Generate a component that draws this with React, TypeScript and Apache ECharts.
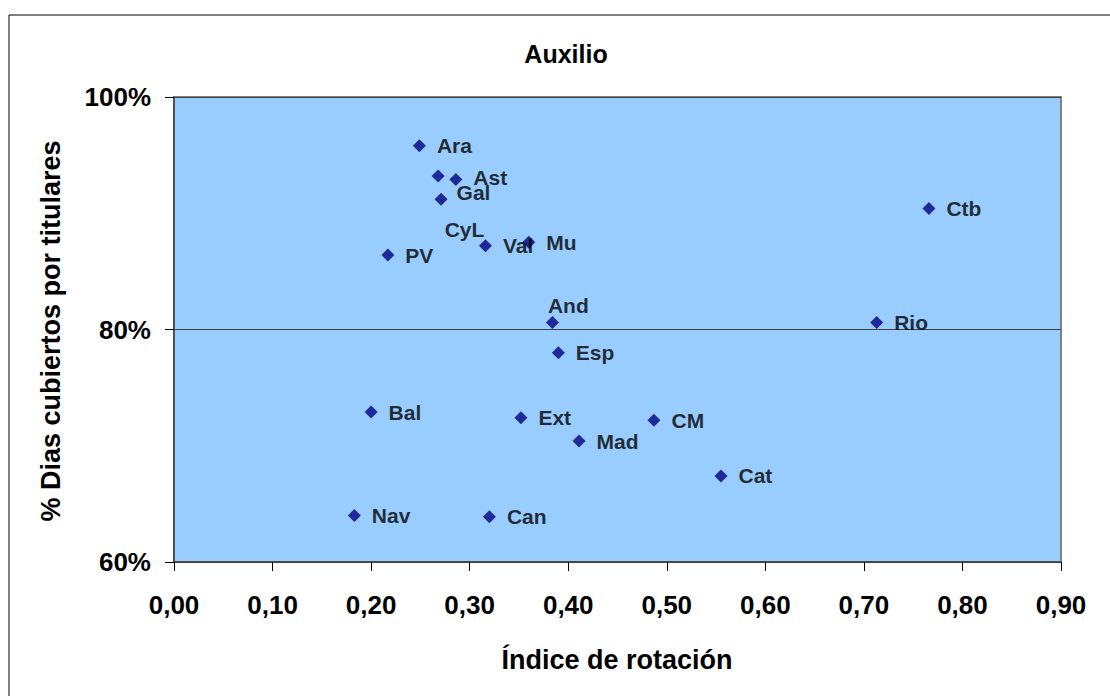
import React, { useEffect, useRef } from "react";
import * as echarts from "echarts";

const regions = ["Ara", "CyL", "Ast", "Gal", "PV", "Val", "Mu", "And", "Esp", "Bal", "Ext", "Mad", "CM", "Cat", "Nav", "Can", "Ctb", "Rio"];
const rotationIndex = [0.249, 0.268, 0.286, 0.271, 0.217, 0.316, 0.360, 0.384, 0.390, 0.200, 0.352, 0.411, 0.487, 0.555, 0.183, 0.320, 0.766, 0.713];
const coveredPct = [95.8, 93.2, 92.9, 91.2, 86.4, 87.2, 87.5, 80.6, 78.0, 72.9, 72.4, 70.4, 72.2, 67.4, 64.0, 63.9, 90.4, 80.6];

const xTicks = { min: 0, max: 0.9, interval: 0.1 };
const yTicks = { min: 60, max: 100, interval: 20 };

const titleText = "Auxilio";
const xTitle = "Índice de rotación";
const yTitle = "% Dias cubiertos por titulares";

// label adjustments (style only)
const labelOffsets: Record<string, [number, number]> = {
  CyL: [-11, 53],
  Ast: [0, -2],
  Gal: [-2, -7],
  And: [-22, -17],
};

const FONT = '"Liberation Sans", Arial, sans-serif';

export default function App() {
  const ref = useRef<HTMLDivElement>(null);
  useEffect(() => {
    if (!ref.current) return;
    const chart = echarts.init(ref.current, undefined, { renderer: "svg" });
    const data = regions.map((name, i) => ({
      name,
      value: [rotationIndex[i], coveredPct[i]],
      label: labelOffsets[name] ? { offset: labelOffsets[name] } : undefined,
    }));
    chart.setOption({
      animation: false,
      backgroundColor: "#ffffff",
      textStyle: { fontFamily: FONT },
      grid: {
        left: 174,
        top: 97,
        right: 49,
        bottom: 134,
        show: true,
        backgroundColor: "#99CCFF",
        borderColor: "#808080",
        borderWidth: 2,
        containLabel: false,
      },
      xAxis: {
        type: "value",
        min: xTicks.min,
        max: xTicks.max,
        interval: xTicks.interval,
        axisLine: { show: true, onZero: false, lineStyle: { color: "#404040", width: 1.5 } },
        axisTick: { show: true, inside: false, length: 9, lineStyle: { color: "#000" } },
        splitLine: { show: false },
        axisLabel: {
          margin: 30,
          fontSize: 26,
          fontWeight: "bold",
          color: "#000",
          fontFamily: FONT,
          formatter: (v: number) => v.toFixed(2).replace(".", ","),
        },
      },
      yAxis: {
        type: "value",
        min: yTicks.min,
        max: yTicks.max,
        interval: yTicks.interval,
        axisLine: { show: true, onZero: false, lineStyle: { color: "#404040", width: 1.5 } },
        axisTick: { show: true, inside: false, length: 9, lineStyle: { color: "#000" } },
        splitLine: { show: true, lineStyle: { color: "#404040", width: 1 } },
        axisLabel: {
          margin: 23,
          fontSize: 26,
          fontWeight: "bold",
          color: "#000",
          fontFamily: FONT,
          formatter: "{value}%",
        },
      },
      series: [
        {
          type: "scatter",
          symbol: "diamond",
          symbolSize: 13,
          itemStyle: { color: "#000080" },
          data,
          label: {
            show: true,
            position: "right",
            distance: 11,
            formatter: "{b}",
            fontSize: 21,
            fontWeight: "bold",
            color: "#000",
            fontFamily: FONT,
          },
        },
      ],
      graphic: [
        {
          type: "rect",
          shape: { x: 9, y: 15, width: 1130, height: 720 },
          style: { fill: "none", stroke: "#000", lineWidth: 1 },
          silent: true,
          z: -1,
        },
        {
          type: "text",
          x: 566,
          y: 54,
          style: {
            text: titleText,
            fontSize: 25,
            fontWeight: "bold",
            fontFamily: FONT,
            fill: "#000",
            align: "center",
            verticalAlign: "middle",
          },
        },
        {
          type: "text",
          x: 617,
          y: 660,
          style: {
            text: xTitle,
            fontSize: 27,
            fontWeight: "bold",
            fontFamily: FONT,
            fill: "#000",
            align: "center",
            verticalAlign: "middle",
          },
        },
        {
          type: "text",
          x: 51,
          y: 331,
          rotation: Math.PI / 2,
          style: {
            text: yTitle,
            fontSize: 27,
            fontWeight: "bold",
            fontFamily: FONT,
            fill: "#000",
            align: "center",
            verticalAlign: "middle",
          },
        },
      ],
    });
    return () => chart.dispose();
  }, []);
  return (
    <div
      ref={ref}
      style={{ position: "fixed", left: 0, top: 0, width: 1110, height: 696 }}
    />
  );
}
